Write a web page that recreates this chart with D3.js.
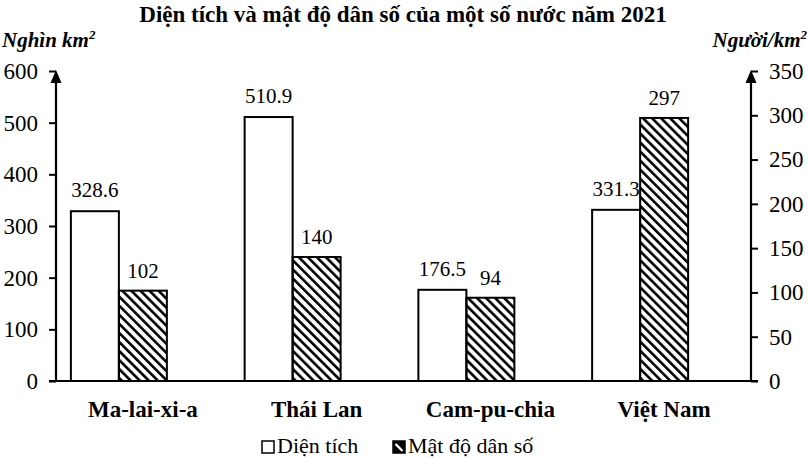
<!DOCTYPE html>
<html>
<head>
<meta charset="utf-8">
<script src="https://cdn.jsdelivr.net/npm/d3@7"></script>
<style>
  body { margin: 0; background: #fff; }
  text { font-family: "Liberation Serif", "Times New Roman", serif; fill: #000; }
</style>
</head>
<body>
<svg id="chart" width="809" height="458"></svg>
<script>
// data
const countries = ["Ma-lai-xi-a", "Thái Lan", "Cam-pu-chia", "Việt Nam"]
const area = [328.6, 510.9, 176.5, 331.3]       // nghìn km2
const density = [102, 140, 94, 297]             // người/km2
const areaTicks = [0, 100, 200, 300, 400, 500, 600]
const densityTicks = [0, 50, 100, 150, 200, 250, 300, 350]

const svg = d3.select("#chart")
const serif = "'Liberation Serif', 'Times New Roman', serif"

const plotLeft = 56, plotRight = 751, plotTop = 71, plotBottom = 381

// hatch for the density bars
const defs = svg.append("defs")
defs.append("pattern")
    .attr("id", "hatch")
    .attr("patternUnits", "userSpaceOnUse")
    .attr("width", 6.4)
    .attr("height", 6.4)
    .attr("patternTransform", "rotate(-45)")
  .append("rect")
    .attr("x", 0)
    .attr("y", 0)
    .attr("width", 2.6)
    .attr("height", 6.4)
    .attr("fill", "#000")

const x0 = d3.scaleBand().domain(countries).range([plotLeft, plotRight]).padding(0)
// third slot is left empty, like the source chart
const x1 = d3.scaleBand().domain(["area", "density", "blank"])
    .range([0, x0.bandwidth()]).paddingInner(0).paddingOuter(0.31)

const yArea = d3.scaleLinear().domain([0, 600]).range([plotBottom, plotTop])
const yDens = d3.scaleLinear().domain([0, 350]).range([plotBottom, plotTop])

// title
svg.append("text")
    .attr("x", 403)
    .attr("y", 22)
    .attr("text-anchor", "middle")
    .style("font-size", "23px")
    .style("font-weight", "bold")
    .text("Diện tích và mật độ dân số của một số nước năm 2021")

// axis titles
let lt = svg.append("text")
    .attr("x", 2)
    .attr("y", 47)
    .style("font-size", "21px")
    .style("font-weight", "bold")
    .style("font-style", "italic")
lt.append("tspan").text("Nghìn km")
lt.append("tspan").attr("dy", -8).style("font-size", "13px").text("2")

let rt = svg.append("text")
    .attr("x", 807)
    .attr("y", 47)
    .attr("text-anchor", "end")
    .style("font-size", "21px")
    .style("font-weight", "bold")
    .style("font-style", "italic")
rt.append("tspan").text("Người/km")
rt.append("tspan").attr("dy", -8).style("font-size", "13px").text("2")

// bars
const groups = svg.selectAll(".country")
    .data(countries)
    .enter().append("g")
    .attr("class", "country")
    .attr("transform", d => "translate(" + x0(d) + ",0)")

groups.append("rect")
    .attr("x", x1("area"))
    .attr("y", (d, i) => yArea(area[i]))
    .attr("width", x1.bandwidth())
    .attr("height", (d, i) => plotBottom - yArea(area[i]))
    .attr("fill", "#fff")
    .attr("stroke", "#000")
    .attr("stroke-width", 2)

groups.append("rect")
    .attr("x", x1("density"))
    .attr("y", (d, i) => yDens(density[i]))
    .attr("width", x1.bandwidth())
    .attr("height", (d, i) => plotBottom - yDens(density[i]))
    .attr("fill", "url(#hatch)")
    .attr("stroke", "#000")
    .attr("stroke-width", 2)

groups.append("text")
    .attr("x", x1("area") + x1.bandwidth() / 2)
    .attr("y", (d, i) => yArea(area[i]) - 14)
    .attr("text-anchor", "middle")
    .style("font-size", "21px")
    .text((d, i) => area[i].toFixed(1))

groups.append("text")
    .attr("x", x1("density") + x1.bandwidth() / 2)
    .attr("y", (d, i) => yDens(density[i]) - 13)
    .attr("text-anchor", "middle")
    .style("font-size", "21px")
    .text((d, i) => density[i])

// category labels
groups.append("text")
    .attr("x", x0.bandwidth() / 2)
    .attr("y", 417)
    .attr("text-anchor", "middle")
    .style("font-size", "23px")
    .style("font-weight", "bold")
    .text(d => d)

// axes
const axL = svg.append("g")
    .attr("transform", "translate(" + plotLeft + ",0)")
    .call(d3.axisLeft(yArea).tickValues(areaTicks).tickSize(7).tickPadding(11))
const axR = svg.append("g")
    .attr("transform", "translate(" + plotRight + ",0)")
    .call(d3.axisRight(yDens).tickValues(densityTicks).tickSize(7).tickPadding(11))

for (const ax of [axL, axR]) {
    ax.select(".domain").remove()
    ax.selectAll(".tick line").attr("stroke", "#000").attr("stroke-width", 2)
    ax.selectAll(".tick text")
        .style("font-family", serif)
        .style("font-size", "23px")
        .attr("fill", "#000")
    ax.append("line")
        .attr("x1", 0).attr("x2", 0)
        .attr("y1", plotBottom).attr("y2", plotTop + 8)
        .attr("stroke", "#000")
        .attr("stroke-width", 2.2)
    ax.append("path")
        .attr("d", "M0," + (plotTop - 1) + " L-5.5," + (plotTop + 12) + " L5.5," + (plotTop + 12) + " Z")
        .attr("fill", "#000")
}

// baseline
svg.append("line")
    .attr("x1", plotLeft - 7).attr("x2", plotRight + 7)
    .attr("y1", plotBottom).attr("y2", plotBottom)
    .attr("stroke", "#000")
    .attr("stroke-width", 2)

// legend
const legendItems = [
    { label: "Diện tích", fill: "#fff", x: 262 },
    { label: "Mật độ dân số", fill: "#000", x: 393 }
]
const leg = svg.selectAll(".legend")
    .data(legendItems)
    .enter().append("g")
    .attr("class", "legend")
    .attr("transform", d => "translate(" + d.x + ",441)")
leg.append("rect")
    .attr("width", 12)
    .attr("height", 12)
    .attr("fill", d => d.fill)
    .attr("stroke", "#000")
    .attr("stroke-width", 1.5)
// white stripe on the small hatched swatch
leg.filter((d, i) => i === 1).append("line")
    .attr("x1", 2.5).attr("y1", 3)
    .attr("x2", 9.5).attr("y2", 10)
    .attr("stroke", "#fff")
    .attr("stroke-width", 2.4)
leg.append("text")
    .attr("x", 15)
    .attr("y", 12)
    .style("font-size", "22px")
    .text(d => d.label)
</script>
</body>
</html>
